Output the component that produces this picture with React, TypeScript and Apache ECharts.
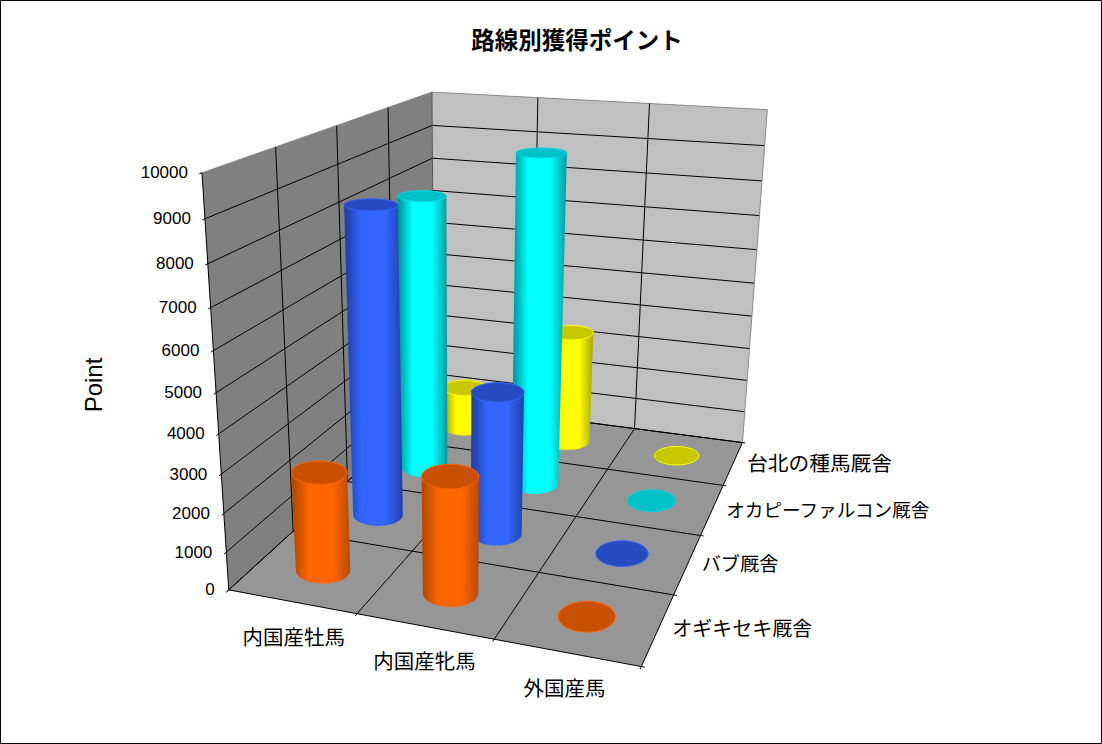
import React, { useEffect, useRef } from "react";
import * as echarts from "echarts";

const title = "路線別獲得ポイント";
const axisName = "Point";
const categories = ["内国産牡馬", "内国産牝馬", "外国産馬"];
const stables = ["オギキセキ厩舎", "バブ厩舎", "オカピーファルコン厩舎", "台北の種馬厩舎"];
const ogikiseki = [2600, 3000, 0];
const babu = [8400, 3900, 0];
const okapi = [7950, 9330, 0];
const taipei = [1300, 3450, 0];
const seriesValues = [ogikiseki, babu, okapi, taipei];
const yTicks = [0, 1000, 2000, 3000, 4000, 5000, 6000, 7000, 8000, 9000, 10000];
const yMax = 10000;

const palette = [
  { side: "#ff6600", edge: "#b84a00", top: "#c85000", rim: "#ff6600" },
  { side: "#3366ff", edge: "#2140a8", top: "#264bc0", rim: "#3366ff" },
  { side: "#00ffff", edge: "#009aa0", top: "#00c0c8", rim: "#00d8e0" },
  { side: "#ffff00", edge: "#a8a800", top: "#c8c800", rim: "#ffff00" },
];

// Camera calibration: box corners (u along categories, v along depth, w up) -> page pixels
const calibration: number[][] = [
  [0, 0, 0, 230, 590],
  [1, 0, 0, 641, 667],
  [1, 1, 0, 743, 442],
  [0, 1, 0, 433, 403],
  [0, 0, 1, 201, 173],
  [0, 1, 1, 433, 92],
  [1, 1, 1, 767, 110],
  [0, 0, 0.5, 216, 392],
];

function solve(A: number[][], b: number[]) {
  const n = b.length;
  const M = A.map((r, i) => [...r, b[i]]);
  for (let c = 0; c < n; c++) {
    let p = c;
    for (let r = c + 1; r < n; r++) if (Math.abs(M[r][c]) > Math.abs(M[p][c])) p = r;
    [M[c], M[p]] = [M[p], M[c]];
    for (let r = 0; r < n; r++) {
      if (r === c) continue;
      const f = M[r][c] / M[c][c];
      for (let k = c; k <= n; k++) M[r][k] -= f * M[c][k];
    }
  }
  return M.map((r, i) => r[n] / r[i]);
}

function fitCamera() {
  const rows: number[][] = [];
  const rhs: number[] = [];
  for (const [u, v, w, x0, y0] of calibration) {
    const x = x0 / 1000;
    const y = y0 / 1000;
    rows.push([u, v, w, 1, 0, 0, 0, 0, -x * u, -x * v, -x * w]);
    rhs.push(x);
    rows.push([0, 0, 0, 0, u, v, w, 1, -y * u, -y * v, -y * w]);
    rhs.push(y);
  }
  const n = 11;
  const N = Array.from({ length: n }, (_, i) =>
    Array.from({ length: n }, (_, j) => rows.reduce((s, r) => s + r[i] * r[j], 0))
  );
  const t = Array.from({ length: n }, (_, i) => rows.reduce((s, r, k) => s + r[i] * rhs[k], 0));
  return solve(N, t);
}
const P = fitCamera();
function project(u: number, v: number, w: number): number[] {
  const d = P[8] * u + P[9] * v + P[10] * w + 1;
  return [
    (1000 * (P[0] * u + P[1] * v + P[2] * w + P[3])) / d,
    (1000 * (P[4] * u + P[5] * v + P[6] * w + P[7])) / d,
  ];
}

function hull(points: number[][]) {
  const pts = [...points].sort((a, b) => a[0] - b[0] || a[1] - b[1]);
  const cross = (o: number[], a: number[], b: number[]) =>
    (a[0] - o[0]) * (b[1] - o[1]) - (a[1] - o[1]) * (b[0] - o[0]);
  const lower: number[][] = [];
  for (const p of pts) {
    while (lower.length >= 2 && cross(lower[lower.length - 2], lower[lower.length - 1], p) <= 0) lower.pop();
    lower.push(p);
  }
  const upper: number[][] = [];
  for (const p of pts.slice().reverse()) {
    while (upper.length >= 2 && cross(upper[upper.length - 2], upper[upper.length - 1], p) <= 0) upper.pop();
    upper.push(p);
  }
  return lower.slice(0, -1).concat(upper.slice(0, -1));
}

const RU = 0.065; // cylinder radius along the category direction (box fraction)
const RV = 0.053; // cylinder radius along the depth direction (box fraction)
const STEPS = 64;

function ring(cat: number, ser: number, w: number) {
  const cu = (cat + 0.5) / categories.length;
  const cv = (ser + 0.5) / stables.length;
  const c = project(cu, cv, w);
  const raw: number[][] = [];
  for (let i = 0; i < STEPS; i++) {
    const a = (i / STEPS) * Math.PI * 2;
    raw.push(project(cu + RU * Math.cos(a), cv + RV * Math.sin(a), w));
  }
  // level the projected ellipse: the reference's cylinder ends are drawn without skew
  let sxx = 0;
  let sxy = 0;
  for (const p of raw) {
    sxx += (p[0] - c[0]) ** 2;
    sxy += (p[0] - c[0]) * (p[1] - c[1]);
  }
  const k = sxy / sxx;
  return raw.map((p) => [p[0], p[1] - k * (p[0] - c[0])]);
}

function cylinderRenderer(ser: number) {
  const c = palette[ser];
  return (_p: any, api: any) => {
    const cat = api.value(0);
    const w = api.value(1) / yMax;
    const children: any[] = [];
    const topRing = ring(cat, ser, w);
    if (w > 0) {
      children.push({
        type: "polygon",
        shape: { points: hull(ring(cat, ser, 0).concat(topRing)) },
        style: {
          fill: new echarts.graphic.LinearGradient(0, 0, 1, 0, [
            { offset: 0, color: c.edge },
            { offset: 0.04, color: c.edge },
            { offset: 0.3, color: c.side },
            { offset: 0.7, color: c.side },
            { offset: 1, color: c.edge },
          ]),
        },
      });
    }
    children.push({
      type: "polygon",
      shape: { points: topRing },
      style: { fill: c.top, stroke: c.rim, lineWidth: 1 },
    });
    return { type: "group", children };
  };
}

const sans = "'Liberation Sans', Arial, sans-serif";
const cjk = "'Noto Sans CJK JP', sans-serif";
const stableLabelSizes = [20, 19.2, 18.6, 20.7];

function frameRenderer() {
  const nC = categories.length;
  const nS = stables.length;
  const kids: any[] = [];
  const poly = (pts: number[][], fill: string) =>
    kids.push({ type: "polygon", shape: { points: pts }, style: { fill } });
  const seg = (a: number[], b: number[], stroke = "#000", lineWidth = 1) =>
    kids.push({
      type: "line",
      shape: { x1: a[0], y1: a[1], x2: b[0], y2: b[1] },
      style: { stroke, lineWidth },
    });
  poly([project(0, 0, 0), project(0, 1, 0), project(0, 1, 1), project(0, 0, 1)], "#808080");
  poly([project(0, 1, 0), project(1, 1, 0), project(1, 1, 1), project(0, 1, 1)], "#c0c0c0");
  poly([project(0, 0, 0), project(1, 0, 0), project(1, 1, 0), project(0, 1, 0)], "#969696");

  const stub = 0.008;
  for (const t of yTicks) {
    const w = t / yMax;
    const isEnd = t === yMax;
    const color = isEnd ? "#8a8a8a" : "#000";
    seg(project(0, -stub, w), project(0, 1, w), color);
    seg(project(0, 1, w), project(1, 1, w), color);
    if (isEnd) seg(project(0, -stub, w), project(0, 0, w));
    const p = project(0, 0, w);
    kids.push({
      type: "text",
      style: {
        x: p[0] - 14,
        y: p[1],
        text: String(t),
        align: "right",
        verticalAlign: "middle",
        fontSize: 17,
        fontFamily: sans,
        fill: "#000",
      },
    });
  }
  for (let s = 0; s <= nS; s++) {
    const v = s / nS;
    if (s < nS) seg(project(0, v, 0), project(0, v, 1));
    seg(project(0, v, 0), project(1 + stub, v, 0));
  }
  seg(project(0, 1, 0), project(0, 1, 1), "#555");
  for (let i = 0; i <= nC; i++) {
    const u = i / nC;
    seg(project(u, -stub, 0), project(u, 1, 0));
    if (i > 0) seg(project(u, 1, 0), project(u, 1, 1), i === nC ? "#8a8a8a" : "#000");
  }
  categories.forEach((name, i) => {
    const p = project((i + 0.5) / nC, 0, 0);
    kids.push({
      type: "text",
      style: {
        x: p[0] + 2 - 2 * i,
        y: p[1] + 34,
        text: name,
        align: "center",
        verticalAlign: "middle",
        fontSize: 20.5,
        fontFamily: cjk,
        fill: "#000",
      },
    });
  });
  stables.forEach((name, s) => {
    const p = project(1, (s + 0.5) / nS, 0);
    kids.push({
      type: "text",
      style: {
        x: p[0] + 14,
        y: p[1] - 1,
        text: name,
        align: "left",
        verticalAlign: "middle",
        fontSize: stableLabelSizes[s],
        fontFamily: cjk,
        fill: "#000",
      },
    });
  });
  return { type: "group", children: kids };
}

export default function App() {
  const ref = useRef<HTMLDivElement>(null);
  useEffect(() => {
    document.body.style.margin = "0";
    const chart = echarts.init(ref.current!, undefined, { renderer: "svg" });
    chart.setOption({
      animation: false,
      backgroundColor: "#fff",
      title: {
        text: title,
        left: 572,
        top: 22,
        textAlign: "center",
        textStyle: { fontFamily: cjk, fontWeight: "bold", fontSize: 23.5, color: "#000" },
      },
      graphic: [
        {
          type: "rect",
          shape: { x: 0.5, y: 0.5, width: 1101, height: 743 },
          style: { fill: "none", stroke: "#000", lineWidth: 1 },
          silent: true,
        },
        {
          type: "text",
          x: 93,
          y: 385,
          rotation: Math.PI / 2,
          style: {
            text: axisName,
            align: "center",
            verticalAlign: "middle",
            fontSize: 24,
            fontFamily: sans,
            fill: "#000",
          },
          silent: true,
        },
      ],
      series: [
        {
          type: "custom",
          name: "frame",
          coordinateSystem: "none",
          silent: true,
          data: [[0]],
          renderItem: frameRenderer,
        },
        ...[3, 2, 1, 0].map((s) => ({
          type: "custom",
          name: stables[s],
          coordinateSystem: "none",
          silent: true,
          data: seriesValues[s].map((v, i) => [i, v]),
          renderItem: cylinderRenderer(s),
        })),
      ],
    });
    return () => chart.dispose();
  }, []);
  return <div ref={ref} style={{ position: "absolute", left: 0, top: 0, width: 1102, height: 744 }} />;
}
